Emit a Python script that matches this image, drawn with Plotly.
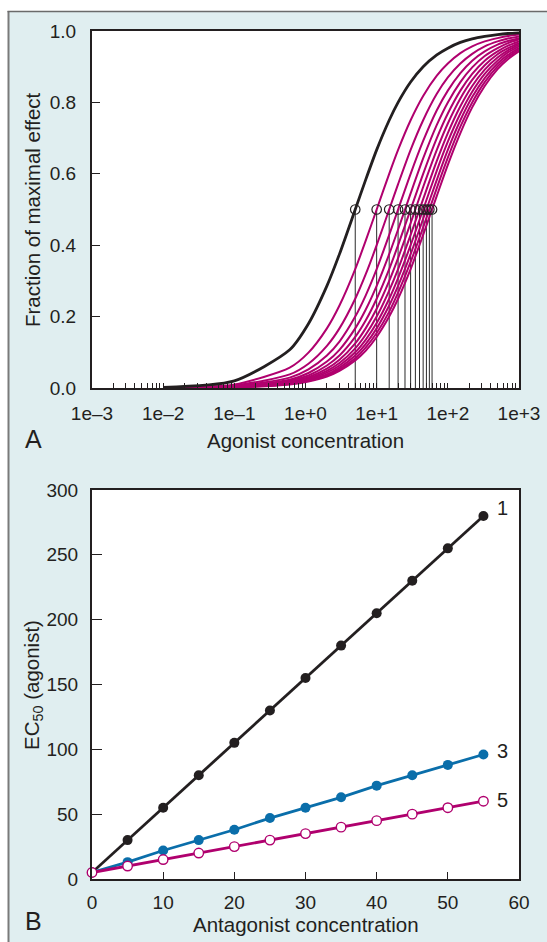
import plotly.graph_objects as go

W, H = 547, 942

# ---------------- Panel A data ----------------
agonist_conc = [0.01, 0.1, 0.6, 1.1, 2, 3, 5, 7, 10, 15, 20, 30, 45, 70, 100,
                150, 220, 330, 500, 700, 1000]

effect_ant0 = [0.002, 0.020, 0.107, 0.180, 0.286, 0.375, 0.500, 0.583, 0.667, 0.750, 0.800,
               0.857, 0.900, 0.933, 0.952, 0.968, 0.978, 0.985, 0.990, 0.993, 0.995]
effect_ant5 = [0.001, 0.010, 0.057, 0.099, 0.167, 0.231, 0.333, 0.412, 0.500, 0.600, 0.667,
               0.750, 0.818, 0.875, 0.909, 0.938, 0.957, 0.971, 0.980, 0.986, 0.990]
effect_ant10 = [0.001, 0.007, 0.038, 0.068, 0.118, 0.167, 0.250, 0.318, 0.400, 0.500, 0.571,
                0.667, 0.750, 0.824, 0.870, 0.909, 0.936, 0.957, 0.971, 0.979, 0.985]
effect_ant15 = [0.000, 0.005, 0.029, 0.052, 0.091, 0.130, 0.200, 0.259, 0.333, 0.429, 0.500,
                0.600, 0.692, 0.778, 0.833, 0.882, 0.917, 0.943, 0.962, 0.972, 0.980]
effect_ant20 = [0.000, 0.004, 0.023, 0.042, 0.074, 0.107, 0.167, 0.219, 0.286, 0.375, 0.444,
                0.545, 0.643, 0.737, 0.800, 0.857, 0.898, 0.930, 0.952, 0.966, 0.976]
effect_ant25 = [0.000, 0.003, 0.020, 0.035, 0.063, 0.091, 0.143, 0.189, 0.250, 0.333, 0.400,
                0.500, 0.600, 0.700, 0.769, 0.833, 0.880, 0.917, 0.943, 0.959, 0.971]
effect_ant30 = [0.000, 0.003, 0.017, 0.030, 0.054, 0.079, 0.125, 0.167, 0.222, 0.300, 0.364,
                0.462, 0.563, 0.667, 0.741, 0.811, 0.863, 0.904, 0.935, 0.952, 0.966]
effect_ant35 = [0.000, 0.002, 0.015, 0.027, 0.048, 0.070, 0.111, 0.149, 0.200, 0.273, 0.333,
                0.429, 0.529, 0.636, 0.714, 0.789, 0.846, 0.892, 0.926, 0.946, 0.962]
effect_ant40 = [0.000, 0.002, 0.013, 0.024, 0.043, 0.063, 0.100, 0.135, 0.182, 0.250, 0.308,
                0.400, 0.500, 0.609, 0.690, 0.769, 0.830, 0.880, 0.917, 0.940, 0.957]
effect_ant45 = [0.000, 0.002, 0.012, 0.022, 0.038, 0.057, 0.091, 0.123, 0.167, 0.231, 0.286,
                0.375, 0.474, 0.583, 0.667, 0.750, 0.815, 0.868, 0.909, 0.933, 0.952]
effect_ant50 = [0.000, 0.002, 0.011, 0.020, 0.035, 0.052, 0.083, 0.113, 0.154, 0.214, 0.267,
                0.353, 0.450, 0.560, 0.645, 0.732, 0.800, 0.857, 0.901, 0.927, 0.948]
effect_ant55 = [0.000, 0.002, 0.010, 0.018, 0.032, 0.048, 0.077, 0.104, 0.143, 0.200, 0.250,
                0.333, 0.429, 0.538, 0.625, 0.714, 0.786, 0.846, 0.893, 0.921, 0.943]

half_effect = 0.5

a_xtick_vals = [1e-3, 1e-2, 1e-1, 1e0, 1e1, 1e2, 1e3]
a_xtick_text = ["1e\u20133", "1e\u20132", "1e\u20131", "1e+0", "1e+1", "1e+2", "1e+3"]
a_ytick_vals = [0.0, 0.2, 0.4, 0.6, 0.8, 1.0]
a_ytick_text = ["0.0", "0.2", "0.4", "0.6", "0.8", "1.0"]

# ---------------- Panel B data ----------------
antagonist_conc = [0, 5, 10, 15, 20, 25, 30, 35, 40, 45, 50, 55]
ec50_kb1 = [5, 30, 55, 80, 105, 130, 155, 180, 205, 230, 255, 280]
ec50_kb3 = [5, 13, 22, 30, 38, 47, 55, 63, 72, 80, 88, 96]
ec50_kb5 = [5, 10, 15, 20, 25, 30, 35, 40, 45, 50, 55, 60]
series_labels = ["1", "3", "5"]

b_xtick_vals = [0, 10, 20, 30, 40, 50, 60]
b_ytick_vals = [0, 50, 100, 150, 200, 250, 300]

# ---------------- styles ----------------
INK = "#231f20"
MAGENTA = "#b0006e"
BLUE = "#0a6eaa"
BG = "#e0eef0"
FONT = "Liberation Sans, Arial, sans-serif"

fig = go.Figure()

# drop lines from EC50 markers
drop_x, drop_y = [], []
for e in ec50_kb5:
    drop_x += [e, e, None]
    drop_y += [half_effect, 0, None]
fig.add_trace(go.Scatter(x=drop_x, y=drop_y, mode="lines",
                         line=dict(color="#2a2a2a", width=1),
                         xaxis="x", yaxis="y", hoverinfo="skip", showlegend=False))

curves = [effect_ant0, effect_ant5, effect_ant10, effect_ant15, effect_ant20, effect_ant25,
          effect_ant30, effect_ant35, effect_ant40, effect_ant45, effect_ant50, effect_ant55]
for c in curves[1:][::-1]:
    fig.add_trace(go.Scatter(x=agonist_conc, y=c, mode="lines",
                             line=dict(color=MAGENTA, width=2, shape="spline", smoothing=0.7),
                             xaxis="x", yaxis="y", showlegend=False))
fig.add_trace(go.Scatter(x=agonist_conc, y=effect_ant0, mode="lines",
                         line=dict(color=INK, width=2.8, shape="spline", smoothing=0.7),
                         xaxis="x", yaxis="y", showlegend=False))

fig.add_trace(go.Scatter(x=ec50_kb5, y=[half_effect] * len(ec50_kb5), mode="markers",
                         marker=dict(symbol="circle-open", size=9.5,
                                     line=dict(color=INK, width=1.2), color=INK),
                         xaxis="x", yaxis="y", showlegend=False))

# Panel B
fig.add_trace(go.Scatter(x=antagonist_conc, y=ec50_kb1, mode="lines+markers",
                         line=dict(color=INK, width=2.8),
                         marker=dict(color=INK, size=10),
                         xaxis="x2", yaxis="y2", cliponaxis=False, showlegend=False))
fig.add_trace(go.Scatter(x=antagonist_conc, y=ec50_kb3, mode="lines+markers",
                         line=dict(color=BLUE, width=2.8),
                         marker=dict(color=BLUE, size=10),
                         xaxis="x2", yaxis="y2", cliponaxis=False, showlegend=False))
fig.add_trace(go.Scatter(x=antagonist_conc, y=ec50_kb5, mode="lines+markers",
                         line=dict(color=MAGENTA, width=2.8),
                         marker=dict(color="white", size=9.5,
                                     line=dict(color=MAGENTA, width=1.4)),
                         xaxis="x2", yaxis="y2", cliponaxis=False, showlegend=False))

minor_ticks = [m * 10.0 ** e for e in range(-3, 3) for m in range(2, 10)]

tickfont = dict(family=FONT, size=19, color=INK)
common = dict(showline=True, mirror=True, linecolor=INK, linewidth=2,
              showgrid=False, zeroline=False, ticks="inside", tickcolor=INK,
              tickwidth=1, tickfont=tickfont, automargin=False)

xA = [92 / W, 519 / W]
yA = [1 - 388 / H, 1 - 31 / H]
xB = [92 / W, 519 / W]
yB = [1 - 879 / H, 1 - 490 / H]

fig.update_layout(
    width=W, height=H,
    margin=dict(l=0, r=0, t=0, b=0, pad=0),
    paper_bgcolor=BG, plot_bgcolor="white",
    font=dict(family=FONT, color=INK),
    xaxis=dict(type="log", range=[-3, 3], domain=xA, anchor="y",
               tickmode="array", tickvals=a_xtick_vals, ticktext=a_xtick_text,
               ticklen=5, ticklabelstandoff=7,
               minor=dict(tickmode="array", tickvals=minor_ticks, ticks="inside",
                          ticklen=5, tickcolor=INK, tickwidth=1, showgrid=False),
               **common),
    yaxis=dict(range=[0, 1], domain=yA, anchor="x",
               tickmode="array", tickvals=a_ytick_vals, ticktext=a_ytick_text,
               ticklen=8, ticklabelstandoff=10, **common),
    xaxis2=dict(range=[0, 60], domain=xB, anchor="y2",
                tickmode="array", tickvals=b_xtick_vals,
                ticklen=7, ticklabelstandoff=5, **common),
    yaxis2=dict(range=[0, 300], domain=yB, anchor="x2",
                tickmode="array", tickvals=b_ytick_vals,
                ticklen=10, ticklabelstandoff=8, **common),
)

# white surround + frame lines
fig.add_shape(type="rect", xref="paper", yref="paper", x0=-0.01, x1=1.01,
              y0=1 - 11.5 / H, y1=1.01, fillcolor="white", line_width=0, layer="below")
fig.add_shape(type="rect", xref="paper", yref="paper", x0=-0.01, x1=8 / W,
              y0=-0.01, y1=1.01, fillcolor="white", line_width=0, layer="below")
fig.add_shape(type="line", xref="paper", yref="paper", x0=8.5 / W, x1=8.5 / W,
              y0=-0.01, y1=1 - 11 / H, line=dict(color="#7a7a7a", width=2))
fig.add_shape(type="line", xref="paper", yref="paper", x0=7.5 / W, x1=1.01,
              y0=1 - 11.5 / H, y1=1 - 11.5 / H, line=dict(color="#6a6a6a", width=1.5))

ann_font = dict(family=FONT, size=20.5, color=INK)
annotations = [
    dict(text="A", x=33 / W, y=1 - 439 / H, font=dict(family=FONT, size=25, color=INK)),
    dict(text="B", x=33 / W, y=1 - 921 / H, font=dict(family=FONT, size=25, color=INK)),
    dict(text="Agonist concentration", x=305.5 / W, y=1 - 440 / H, font=ann_font),
    dict(text="Antagonist concentration", x=305.5 / W, y=1 - 924 / H, font=ann_font),
    dict(text="Fraction of maximal effect", x=33 / W, y=1 - 210 / H, textangle=-90, font=ann_font),
    dict(text="EC<sub>50</sub> (agonist)", x=33 / W, y=1 - 685 / H, textangle=-90, font=ann_font),
]
for a in annotations:
    a.update(xref="paper", yref="paper", showarrow=False, xanchor="center", yanchor="middle")
    fig.add_annotation(**a)

last = [ec50_kb1[-1], ec50_kb3[-1], ec50_kb5[-1]]
yshifts = [8, 4, 1]
for lab, yv, ys in zip(series_labels, last, yshifts):
    fig.add_annotation(text=lab, x=antagonist_conc[-1], y=yv, xref="x2", yref="y2",
                       showarrow=False, xshift=19, yshift=ys,
                       font=dict(family=FONT, size=20, color=INK))

fig.write_html("out.html")
